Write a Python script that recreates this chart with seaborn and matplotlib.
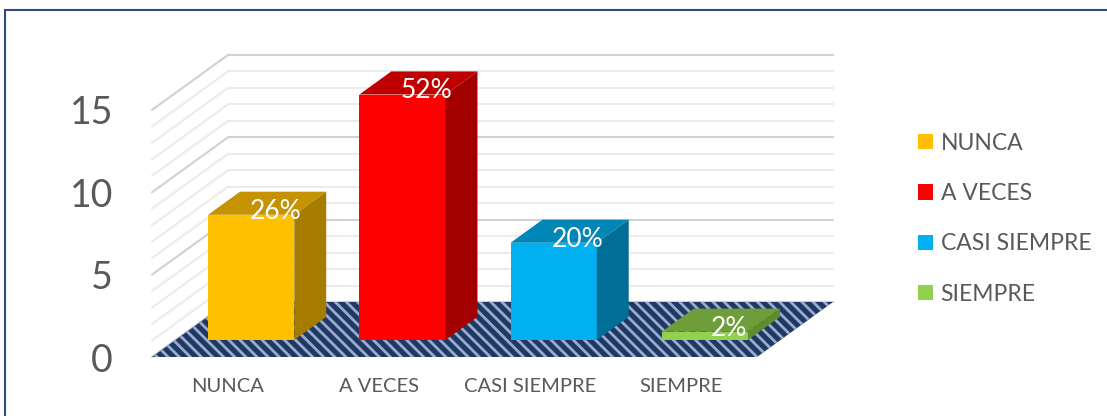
import matplotlib
matplotlib.use("Agg")
import matplotlib.pyplot as plt
import matplotlib.transforms as mtransforms
from matplotlib.patches import Polygon, Patch
from matplotlib.lines import Line2D
import seaborn as sns
import numpy as np

# data
categorias = ["NUNCA", "A VECES", "CASI SIEMPRE", "SIEMPRE"]
valores = [7.6, 14.9, 5.9, 0.5]
porcentajes = ["26%", "52%", "20%", "2%"]

# colours (front, top, side)
c_frente = ["#FFC000", "#FF0000", "#00B0F0", "#92D050"]
c_arriba = ["#C59300", "#C00000", "#0087B8", "#6E9E3A"]
c_lado = ["#A67C00", "#A30000", "#006E96", "#5E8C2E"]

sns.set_theme(style="white")
plt.rcParams["font.family"] = ["Lato", "DejaVu Sans"]
plt.rcParams["hatch.linewidth"] = 2.0

W, H = 1107, 416
fig = plt.figure(figsize=(W / 100, H / 100), dpi=100)
fig.patch.set_facecolor("white")

# front plane of the 3D box in pixels
px_left, px_right, px_zero, px_unit = 152, 757, 357, 16.47
ax = fig.add_axes([px_left / W, (H - px_zero) / H,
                   (px_right - px_left) / W, 15 * px_unit / H])
ax.set_facecolor("none")

DEPTH = (76, 55)  # box depth in pixels (right, up)


def prof(f):
    return mtransforms.ScaledTranslation(DEPTH[0] * f / 100, DEPTH[1] * f / 100,
                                         fig.dpi_scale_trans)


sns.barplot(x=categorias, y=valores, hue=categorias, palette=c_frente,
            width=0.57, saturation=1, legend=False, ax=ax, zorder=5)
ax.set_xlim(-0.5, 3.5)
ax.set_ylim(0, 15)
for s in ax.spines.values():
    s.set_visible(False)

ident = mtransforms.IdentityTransform()

# walls: gridlines on back and left wall
for k in range(0, 16):
    col = "#D0D0D0" if k % 5 == 0 else "#EBEBEB"
    ax.plot([-0.5, 3.5], [k, k], color=col, lw=1.5, transform=ax.transData + prof(1.0),
            zorder=1, clip_on=False)
    p0 = ax.transData.transform((-0.5, k))
    p1 = p0 + np.array(DEPTH)
    ax.add_line(Line2D([p0[0], p1[0]], [p0[1], p1[1]], color=col, lw=1.5,
                       transform=ident, zorder=1, clip_on=False))

# floor
f0 = ax.transData.transform((-0.5, 0))
f1 = ax.transData.transform((3.5, 0))
piso = np.array([f0, f1, f1 + DEPTH, f0 + DEPTH])
ax.add_patch(Polygon(piso, closed=True, facecolor="#1F3864", edgecolor="#9AACCB",
                     hatch="\\\\\\", lw=0, transform=ident, zorder=2, clip_on=False))

# 3D bars
f_front = 0.31
f_bar = 0.42
bd = np.array([DEPTH[0] * f_bar, DEPTH[1] * f_bar])
tr_front = ax.transData + prof(f_front)
for i, p in enumerate(ax.patches[:len(categorias)]):
    p.set_transform(tr_front)
    p.set_zorder(5)
    p.set_linewidth(0)
    p.set_clip_on(False)
    x0, w, h = p.get_x(), p.get_width(), p.get_height()
    fl = tr_front.transform((x0, h))
    fr = tr_front.transform((x0 + w, h))
    br = tr_front.transform((x0 + w, 0))
    ax.add_patch(Polygon([fl, fr, fr + bd, fl + bd], closed=True, facecolor=c_arriba[i],
                         lw=0, transform=ident, zorder=6, clip_on=False))
    ax.add_patch(Polygon([br, fr, fr + bd, br + bd], closed=True, facecolor=c_lado[i],
                         lw=0, transform=ident, zorder=6, clip_on=False))
    ax.text(x0 + w / 2, h, porcentajes[i], color="white", fontsize=19,
            ha="center", va="center", clip_on=False,
            transform=ax.transData + prof(f_front + f_bar / 2)
            + mtransforms.ScaledTranslation(0.08, -0.08, fig.dpi_scale_trans),
            zorder=8)

ax.set_xticks(range(len(categorias)))
ax.set_xticklabels(categorias, fontsize=14.5, color="#595959")
ax.set_yticks([0, 5, 10, 15])
ax.set_yticklabels(["0", "5", "10", "15"], fontsize=27, color="#595959")
ax.tick_params(axis="x", length=0, pad=15)
ax.tick_params(axis="y", length=0, pad=28)
ax.set_xlabel("")
ax.set_ylabel("")

# legend
handles = [Patch(facecolor=c, edgecolor="none") for c in c_frente]
fig.legend(handles, categorias, loc="upper left", bbox_to_anchor=(897 / W, 1 - 112 / H),
           frameon=False, fontsize=16.5, labelcolor="#595959", handlelength=0.65,
           handleheight=0.65, handletextpad=0.35, labelspacing=1.28)

# chart border (cropped)
fig.add_artist(Line2D([4.5 / W, 4.5 / W], [0, 1 - 10 / H], color="#2F4A7C", lw=1.5,
                      transform=fig.transFigure))
fig.add_artist(Line2D([4.5 / W, 1], [1 - 10 / H, 1 - 10 / H], color="#2F4A7C", lw=1.5,
                      transform=fig.transFigure))

fig.savefig("out.png", dpi=100, facecolor="white")
